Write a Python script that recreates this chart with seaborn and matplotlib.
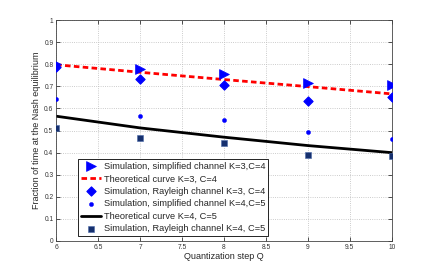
import matplotlib
matplotlib.use("Agg")
import numpy as np
import pandas as pd
import matplotlib.pyplot as plt
import seaborn as sns

# Datos
q = [6, 7, 8, 9, 10]
sim_simpl_k3 = [0.800, 0.780, 0.755, 0.717, 0.705]
theo_k3 = [0.798, 0.764, 0.731, 0.699, 0.666]
sim_rayl_k3 = [0.790, 0.733, 0.705, 0.632, 0.653]
sim_simpl_k4 = [0.642, 0.565, 0.547, 0.492, 0.462]
theo_k4 = [0.565, 0.512, 0.470, 0.432, 0.400]
sim_rayl_k4 = [0.512, 0.468, 0.445, 0.390, 0.385]

xticks = [6, 6.5, 7, 7.5, 8, 8.5, 9, 9.5, 10]
yticks = [0, 0.1, 0.2, 0.3, 0.4, 0.5, 0.6, 0.7, 0.8, 0.9, 1]

sns.set_theme(style="ticks")
plt.rcParams['font.family'] = ['Liberation Sans', 'DejaVu Sans']

df = pd.DataFrame({"q": q, "s3": sim_simpl_k3, "t3": theo_k3, "r3": sim_rayl_k3,
                   "s4": sim_simpl_k4, "t4": theo_k4, "r4": sim_rayl_k4})

fig = plt.figure(figsize=(4.32, 2.72), dpi=100)
ax = fig.add_axes([0.130, 0.114, 0.777, 0.812])

navy = "#16306e"
sns.scatterplot(data=df, x="q", y="s3", ax=ax, marker=">", s=50, color="blue",
                edgecolor="blue", linewidth=0.5, label="Simulation, simplified channel K=3,C=4", zorder=3)
sns.lineplot(data=df, x="q", y="t3", ax=ax, color="red", lw=2, ls=(0, (2, 1.2)),
             label="Theoretical curve K=3, C=4")
sns.scatterplot(data=df, x="q", y="r3", ax=ax, marker="D", s=22, color="blue",
                edgecolor="blue", linewidth=0.8, label="Simulation, Rayleigh channel K=3, C=4", zorder=3)
sns.scatterplot(data=df, x="q", y="s4", ax=ax, marker="o", s=9, color="blue",
                edgecolor="blue", linewidth=0.3, label="Simulation, simplified channel K=4,C=5", zorder=3)
sns.lineplot(data=df, x="q", y="t4", ax=ax, color="black", lw=2,
             label="Theoretical curve K=4, C=5")
sns.scatterplot(data=df, x="q", y="r4", ax=ax, marker="s", s=16, color=navy,
                edgecolor="#4a6aa8", linewidth=0.4, label="Simulation, Rayleigh channel K=4, C=5", zorder=3)

ax.set_xlim(6, 10)
ax.set_ylim(0, 1)
ax.set_xticks(xticks)
ax.set_xticklabels([f"{v:g}" for v in xticks])
ax.set_yticks(yticks)
ax.set_yticklabels([f"{v:g}" for v in yticks])
ax.tick_params(direction="in", length=3, width=0.6, labelsize=4.8, pad=2,
               top=True, right=True, colors="#333333")
ax.grid(True, ls=":", lw=0.6, color="#bbbbbb")
for sp in ax.spines.values():
    sp.set_linewidth(0.6)
    sp.set_color("#444444")
ax.set_xlabel("Quantization step Q", fontsize=6.5, labelpad=1)
ax.set_ylabel("Fraction of time at the Nash equilibrium", fontsize=6.5, labelpad=2)

leg = ax.legend(loc="lower left", bbox_to_anchor=(0.066, 0.022), fontsize=6.65,
                frameon=True, fancybox=False, edgecolor="black", framealpha=1,
                handlelength=2.2, handletextpad=0.3, borderpad=0.3, labelspacing=0.38,
                borderaxespad=0)
leg.get_frame().set_linewidth(0.6)

fig.savefig("out.png", dpi=100)
plt.close(fig)
